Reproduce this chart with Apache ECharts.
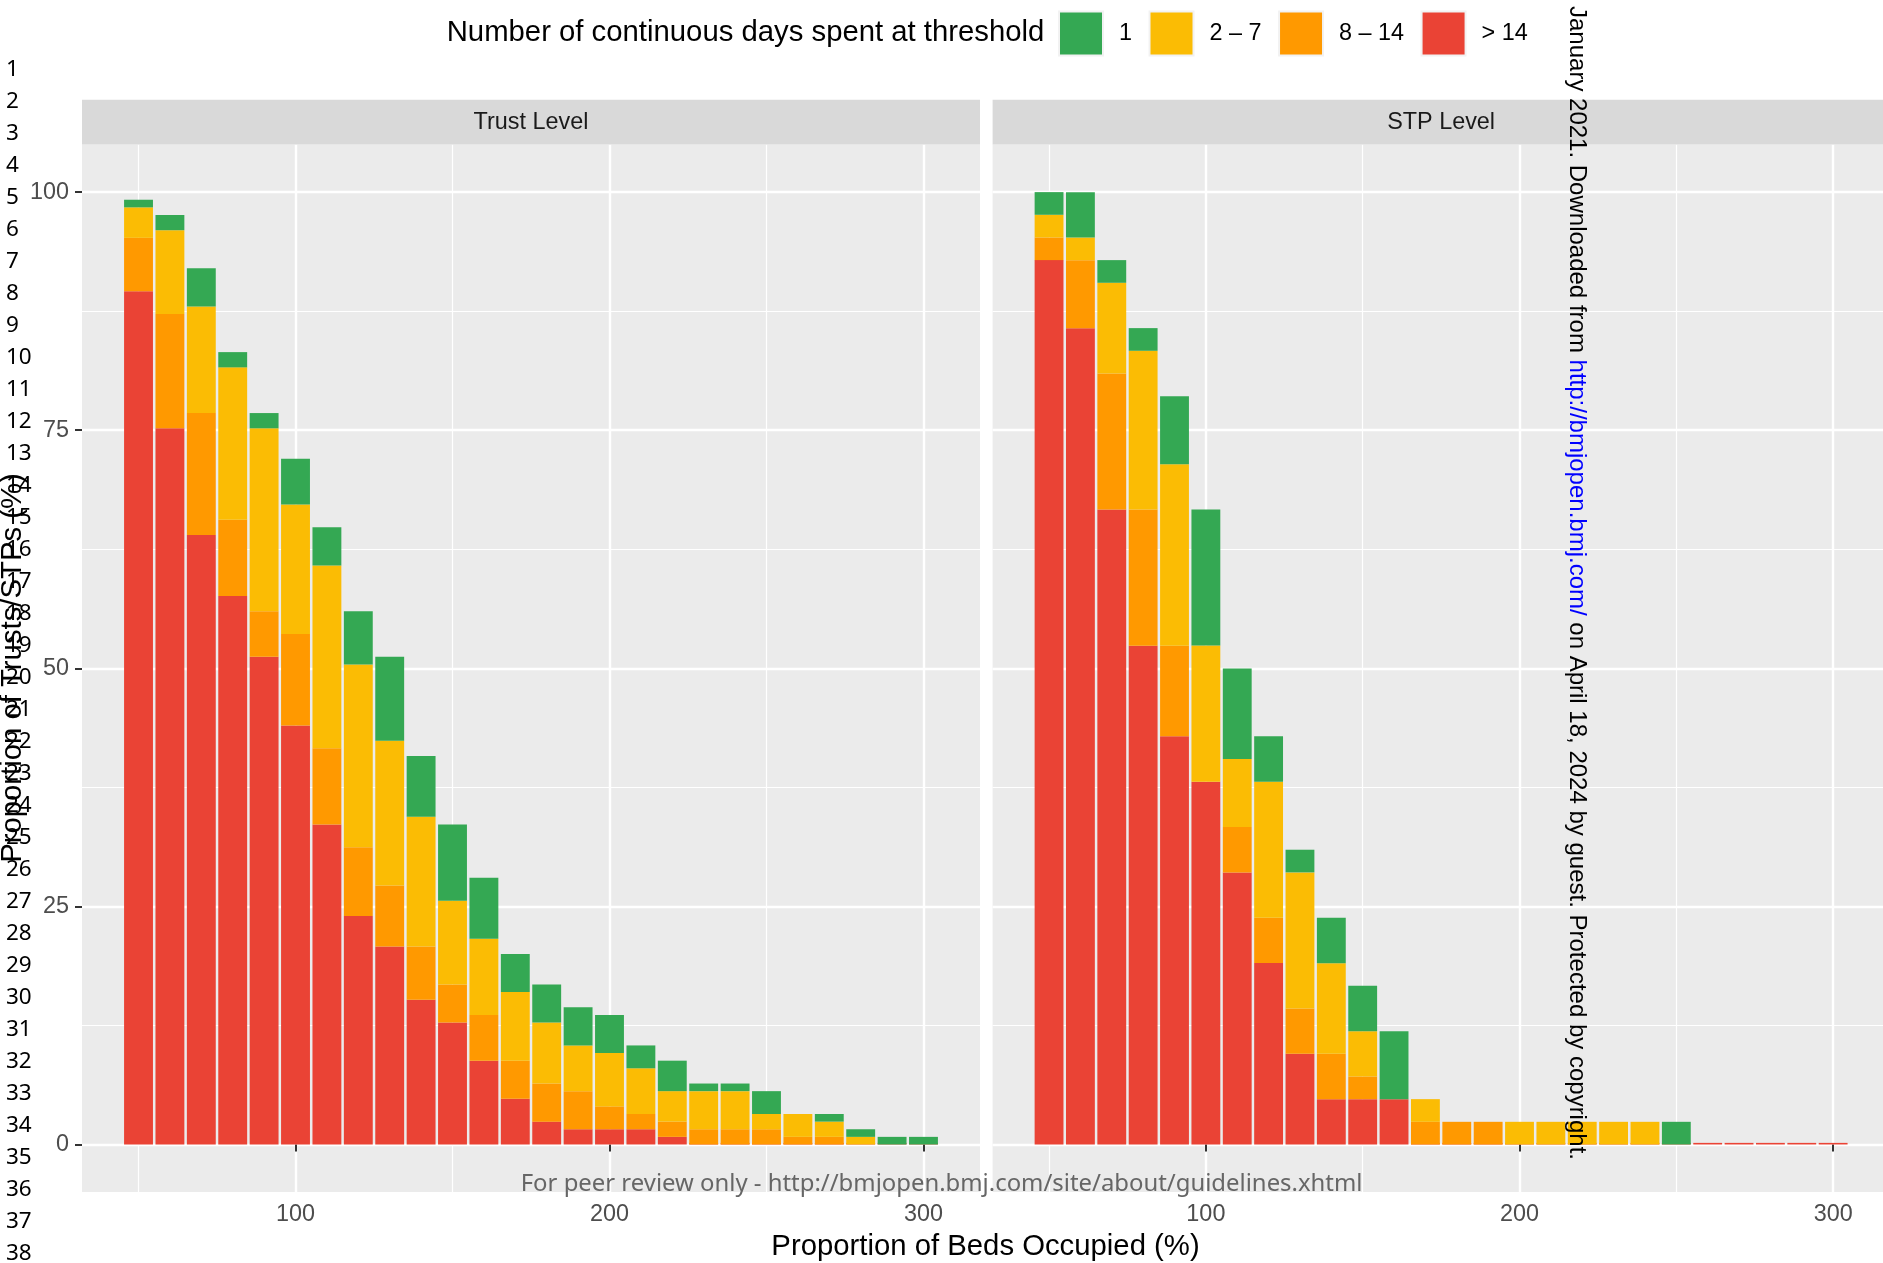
<!DOCTYPE html>
<html>
<head>
<meta charset="utf-8">
<script src="https://cdn.jsdelivr.net/npm/echarts@6/dist/echarts.min.js"></script>
<style>
html,body{margin:0;padding:0;background:#ffffff;}
#chart{width:1883px;height:1263px;}
</style>
</head>
<body>
<div id="chart"></div>
<script>
// ---------------- DATA ----------------
const bins = [50,60,70,80,90,100,110,120,130,140,150,160,170,180,190,200,210,220,230,240,250,260,270,280,290,300];
const seriesNames = ['> 14', '8 – 14', '2 – 7', '1'];      // stacking order, bottom to top
const legendOrder = ['1', '2 – 7', '8 – 14', '> 14'];
const facetLabels = ['Trust Level', 'STP Level'];

// Trust level (% of trusts)
const trustRed    = [89.6,75.2,64.0,57.6,51.2,44.0,33.6,24.0,20.8,15.2,12.8,8.8,4.8,2.4,1.6,1.6,1.6,0.8,0,0,0,0,0,0,0,0];
const trustOrange = [5.6,12.0,12.8,8.0,4.8,9.6,8.0,7.2,6.4,5.6,4.0,4.8,4.0,4.0,4.0,2.4,1.6,1.6,1.6,1.6,1.6,0.8,0.8,0,0,0];
const trustYellow = [3.2,8.8,11.2,16.0,19.2,13.6,19.2,19.2,15.2,13.6,8.8,8.0,7.2,6.4,4.8,5.6,4.8,3.2,4.0,4.0,1.6,2.4,1.6,0.8,0,0];
const trustGreen  = [0.8,1.6,4.0,1.6,1.6,4.8,4.0,5.6,8.8,6.4,8.0,6.4,4.0,4.0,4.0,4.0,2.4,3.2,0.8,0.8,2.4,0,0.8,0.8,0.8,0.8];

// STP level (% of STPs)
const stpRed    = [92.86,85.71,66.67,52.38,42.86,38.10,28.57,19.05,9.52,4.76,4.76,4.76,0,0,0,0,0,0,0,0,0,0,0,0,0,0];
const stpOrange = [2.38,7.14,14.29,14.29,9.52,0,4.76,4.76,4.76,4.76,2.38,0,2.38,2.38,2.38,0,0,0,0,0,0,0,0,0,0,0];
const stpYellow = [2.38,2.38,9.52,16.67,19.05,14.29,7.14,14.29,14.29,9.52,4.76,0,2.38,0,0,2.38,2.38,2.38,2.38,2.38,0,0,0,0,0,0];
const stpGreen  = [2.38,4.76,2.38,2.38,7.14,14.29,9.52,4.76,2.38,4.76,4.76,7.14,0,0,0,0,0,0,0,0,2.38,0,0,0,0,0];

const xTicks = [100, 200, 300];
const xMinorTicks = [50, 150, 250];
const yTicks = [0, 25, 50, 75, 100];
const yMinorTicks = [12.5, 37.5, 62.5, 87.5];

// ---------------- STYLE ----------------
const colors = ['#EA4335', '#FF9900', '#FBBC04', '#34A853'];
const FONT = 'Liberation Sans';
const TICK_FS = 23.4, TITLE_FS = 29.3;

const gridsPx = [
  {left: 82, top: 144.5, width: 898, height: 1047.6},
  {left: 992.6, top: 144.5, width: 897, height: 1047.6}
];

const facetData = [
  [trustRed, trustOrange, trustYellow, trustGreen],
  [stpRed, stpOrange, stpYellow, stpGreen]
];

const grids = gridsPx.map(g => Object.assign({
  show: true, backgroundColor: '#EBEBEB', borderWidth: 0,
  containLabel: false, outerBoundsMode: 'none'
}, g));

const xAxes = [], yAxes = [];
gridsPx.forEach((g, f) => {
  xAxes.push({
    gridIndex: f, type: 'value', min: 32, max: 318, position: 'bottom',
    axisLine: {show: false},
    axisTick: {show: true, customValues: xTicks, length: 7, lineStyle: {color: '#333333', width: 2}},
    axisLabel: {show: true, customValues: xTicks, margin: 11, fontSize: TICK_FS, color: '#4D4D4D', fontFamily: FONT},
    splitLine: {show: true, lineStyle: {color: '#FFFFFF', width: 2.4}}
  });
  xAxes.push({
    gridIndex: f, type: 'value', min: 32, max: 318, position: 'top',
    axisLine: {show: false},
    axisTick: {show: false, customValues: xMinorTicks},
    axisLabel: {show: false, customValues: xMinorTicks},
    splitLine: {show: true, lineStyle: {color: '#FFFFFF', width: 1.2}}
  });
  yAxes.push({
    gridIndex: f, type: 'value', min: -5, max: 105, position: 'left',
    axisLine: {show: false},
    axisTick: {show: f === 0, customValues: yTicks, length: 7, lineStyle: {color: '#333333', width: 2}},
    axisLabel: {show: f === 0, customValues: yTicks, margin: 13, fontSize: TICK_FS, color: '#4D4D4D', fontFamily: FONT},
    splitLine: {show: true, lineStyle: {color: '#FFFFFF', width: 2.4}}
  });
  yAxes.push({
    gridIndex: f, type: 'value', min: -5, max: 105, position: 'right',
    axisLine: {show: false},
    axisTick: {show: false, customValues: yMinorTicks},
    axisLabel: {show: false, customValues: yMinorTicks},
    splitLine: {show: true, lineStyle: {color: '#FFFFFF', width: 1.2}}
  });
});

// data items are [value, bin] so that the value dimension is the stacked one
const series = [];
facetData.forEach((arrs, f) => {
  arrs.forEach((arr, k) => {
    series.push({
      name: seriesNames[k], type: 'bar', stack: 'facet' + f,
      xAxisIndex: f * 2, yAxisIndex: f * 2,
      data: bins.map((b, i) => [arr[i], b]),
      encode: {x: 1, y: 0},
      barWidth: '92%',
      barMinHeight: k === 0 ? 1.6 : 0,
      itemStyle: {color: colors[k]},
      emphasis: {disabled: true},
      silent: true
    });
  });
});

// ---------------- GRAPHICS (texts) ----------------
const graphics = [];
// strips
gridsPx.forEach((g, f) => {
  graphics.push({type: 'rect', z: 5, shape: {x: g.left, y: 99.7, width: g.width, height: 44.8}, style: {fill: '#D9D9D9'}});
  graphics.push({type: 'text', z: 6, x: g.left + g.width / 2, y: 122.3,
    style: {text: facetLabels[f], fontSize: TICK_FS, fontFamily: FONT, fill: '#1A1A1A', textAlign: 'center', textVerticalAlign: 'middle'}});
});
// legend title
graphics.push({type: 'text', z: 6, x: 446.7, y: 32.5,
  style: {text: 'Number of continuous days spent at threshold', fontSize: TITLE_FS, fontFamily: FONT, fill: '#000000', textAlign: 'left', textVerticalAlign: 'middle'}});
// axis titles
graphics.push({type: 'text', z: 6, x: 985.5, y: 1246.5,
  style: {text: 'Proportion of Beds Occupied (%)', fontSize: TITLE_FS, fontFamily: FONT, fill: '#000000', textAlign: 'center', textVerticalAlign: 'middle'}});
graphics.push({type: 'text', z: 6, x: 13, y: 668, rotation: Math.PI / 2,
  style: {text: 'Proportion of Trusts/STPs (%)', fontSize: TITLE_FS, fontFamily: FONT, fill: '#000000', textAlign: 'center', textVerticalAlign: 'middle'}});
// line numbers
for (let i = 1; i <= 38; i++) {
  graphics.push({type: 'text', z: 20, x: 6, y: 69.7 + (i - 1) * 32.0,
    style: {text: String(i), fontSize: 22.5, fontFamily: 'Noto Sans', fill: '#000000', textAlign: 'left', textVerticalAlign: 'middle'}});
}
// footer
graphics.push({type: 'text', z: 20, x: 941.6, y: 1184,
  style: {text: 'For peer review only - http://bmjopen.bmj.com/site/about/guidelines.xhtml', fontSize: 23.9, fontFamily: 'Noto Sans', fill: '#666666', textAlign: 'center', textVerticalAlign: 'middle'}});
// watermark
graphics.push({type: 'text', z: 20, x: 1577, y: 6, rotation: -Math.PI / 2,
  style: {
    text: '{a|January 2021. Downloaded from }{b|http://bmjopen.bmj.com/}{a| on April 18, 2024 by guest. Protected by copyright.}',
    fontSize: 24, fontFamily: FONT, fill: '#000000', textAlign: 'left', textVerticalAlign: 'middle',
    rich: {a: {fontSize: 24, fontFamily: FONT, fill: '#000000'}, b: {fontSize: 24, fontFamily: FONT, fill: '#0000FF'}}
  }});

const option = {
  animation: false,
  backgroundColor: '#FFFFFF',
  textStyle: {fontFamily: FONT},
  legend: {
    data: legendOrder, left: 1058, top: 10.5, padding: 0,
    orient: 'horizontal', icon: 'rect', itemWidth: 44, itemHeight: 44, itemGap: 16.5,
    itemStyle: {borderColor: '#F2F2F2', borderWidth: 2},
    textStyle: {fontSize: TICK_FS, fontFamily: FONT, color: '#000000', padding: [0, 0, 0, 11]},
    selectedMode: false
  },
  grid: grids,
  xAxis: xAxes,
  yAxis: yAxes,
  series: series,
  graphic: graphics
};

const chart = echarts.init(document.getElementById('chart'), null, {renderer: 'canvas'});
chart.setOption(option);
</script>
</body>
</html>
